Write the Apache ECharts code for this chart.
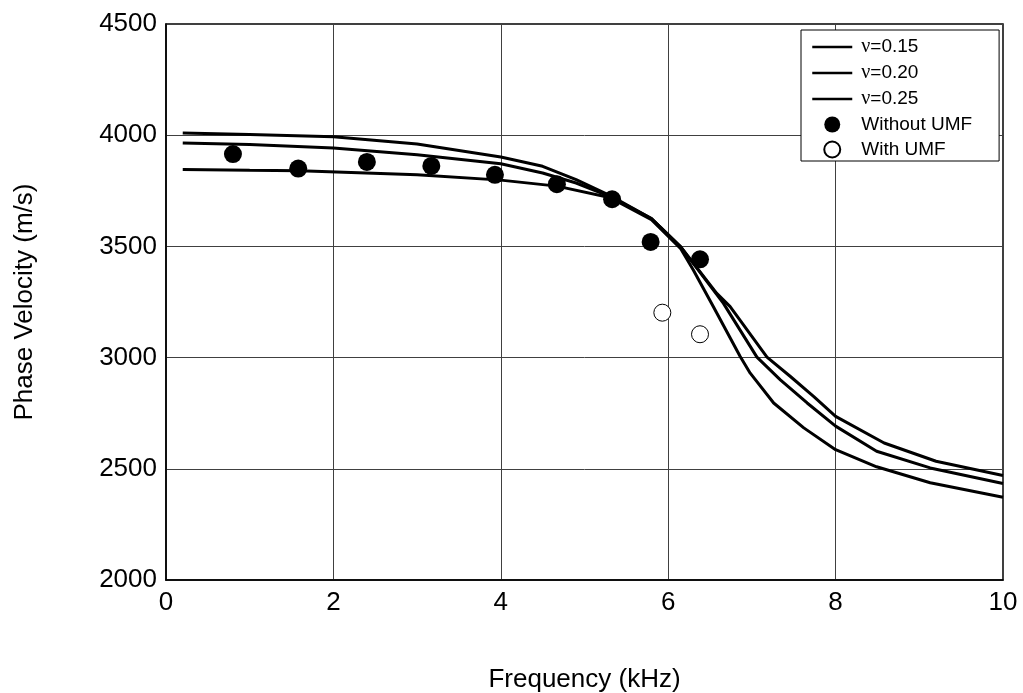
<!DOCTYPE html>
<html>
<head>
<meta charset="utf-8">
<title>Phase velocity</title>
<script src="https://cdn.jsdelivr.net/npm/echarts@6/dist/echarts.min.js"></script>
<style>
    html, body { margin: 0; padding: 0; background: #fff; }
    #chart { width: 1023px; height: 693px; }
</style>
</head>
<body>
<div id="chart"></div>
<script>
// curve nu = 0.15
var freq15 = [0.2, 1, 2, 3, 4, 4.5, 4.9, 5.3, 5.8, 6.15, 6.58, 6.74, 7.18, 7.46, 7.74, 8.0, 8.58, 9.2, 10];
var vel15 = [4010, 4003, 3993, 3960, 3902, 3860, 3800, 3730, 3625, 3498, 3289, 3229, 3002, 2915, 2825, 2736, 2616, 2534, 2470];
// curve nu = 0.20
var freq20 = [0.2, 1, 2, 3, 4, 4.5, 4.9, 5.3, 5.8, 6.15, 6.66, 7.06, 7.34, 7.66, 8.0, 8.49, 9.13, 10];
var vel20 = [3965, 3958, 3942, 3912, 3872, 3830, 3785, 3725, 3625, 3498, 3244, 3002, 2900, 2796, 2692, 2579, 2504, 2434];
// curve nu = 0.25
var freq25 = [0.2, 1, 1.6, 3, 4, 4.67, 5.3, 5.8, 6.15, 6.3, 6.54, 6.86, 6.98, 7.26, 7.62, 8.0, 8.49, 9.13, 10];
var vel25 = [3846, 3842, 3840, 3822, 3798, 3771, 3720, 3620, 3490, 3394, 3229, 3005, 2930, 2796, 2684, 2586, 2509, 2437, 2372];
// measured points
var withoutFreq = [0.8, 1.58, 2.4, 3.17, 3.93, 4.67, 5.33, 5.79, 6.38];
var withoutVel = [3915, 3850, 3880, 3862, 3822, 3780, 3712, 3520, 3442];
var withFreq = [5.93, 6.38];
var withVel = [3202, 3105];

var xTicks = { min: 0, max: 10, interval: 2 };
var yTicks = { min: 2000, max: 4500, interval: 500 };

(function (window) {
    var font = 'Liberation Sans, Arial, sans-serif';

    function pairs(xs, ys) {
        return xs.map(function (x, i) { return [x, ys[i]]; });
    }

    function buildLine(name, xs, ys) {
        return {
            name: name,
            type: 'line',
            data: pairs(xs, ys),
            symbol: 'none',
            smooth: false,
            lineStyle: { color: '#000', width: 3 },
            itemStyle: { color: '#000' },
            z: 2
        };
    }

    function buildScatter(name, xs, ys, filled) {
        return {
            name: name,
            type: 'scatter',
            data: pairs(xs, ys),
            symbol: 'circle',
            symbolSize: filled ? 18 : 17,
            itemStyle: filled
                ? { color: '#000', opacity: 1 }
                : { color: '#fff', borderColor: '#000', borderWidth: 1, opacity: 1 },
            z: 3
        };
    }

    // legend entries for lines: hide the circle that echarts puts on line icons
    function lineLegend(name) {
        return { name: name, itemStyle: { opacity: 0 } };
    }

    var chart = echarts.init(document.getElementById('chart'));

    chart.setOption({
        animation: false,
        backgroundColor: '#fff',
        textStyle: { fontFamily: font, color: '#000' },
        grid: {
            left: 166, right: 20, top: 24, bottom: 113,
            outerBoundsMode: 'none',
            show: true,
            borderColor: '#000',
            borderWidth: 1.5
        },
        legend: {
            orient: 'vertical',
            left: 801,
            top: 30,
            padding: [7, 27, 2, 10],
            itemWidth: 40,
            itemHeight: 16,
            itemGap: 6,
            backgroundColor: '#fff',
            borderColor: '#000',
            borderWidth: 1,
            lineStyle: { width: 2.5 },
            textStyle: {
                fontFamily: font, fontSize: 19, color: '#000', lineHeight: 19,
                padding: [0, 0, 0, 4],
                rich: {
                    g: { fontFamily: 'Liberation Serif, serif', fontSize: 20, color: '#000', lineHeight: 19 },
                    t: { fontFamily: font, fontSize: 19, color: '#000', lineHeight: 19 }
                }
            },
            formatter: function (name) {
                if (name.charAt(0) === 'ν') {
                    return '{g|ν}{t|' + name.slice(1) + '}';
                }
                return name;
            },
            data: [
                lineLegend('ν=0.15'),
                lineLegend('ν=0.20'),
                lineLegend('ν=0.25'),
                'Without UMF',
                'With UMF'
            ]
        },
        xAxis: {
            type: 'value',
            min: xTicks.min,
            max: xTicks.max,
            interval: xTicks.interval,
            name: 'Frequency (kHz)',
            nameLocation: 'middle',
            nameGap: 87,
            nameTextStyle: { fontFamily: font, fontSize: 26, color: '#000' },
            axisLine: { show: true, lineStyle: { color: '#000', width: 1.5 } },
            axisTick: { show: false },
            axisLabel: { fontFamily: font, fontSize: 26, color: '#000', margin: 10 },
            splitLine: { show: true, lineStyle: { color: '#404040', width: 1 } }
        },
        yAxis: {
            type: 'value',
            min: yTicks.min,
            max: yTicks.max,
            interval: yTicks.interval,
            name: 'Phase Velocity (m/s)',
            nameLocation: 'middle',
            nameGap: 128,
            nameTextStyle: { fontFamily: font, fontSize: 26, color: '#000' },
            axisLine: { show: true, lineStyle: { color: '#000', width: 1.5 } },
            axisTick: { show: false },
            axisLabel: {
                fontFamily: font, fontSize: 26, color: '#000', margin: 9,
                formatter: function (v) { return String(v); }
            },
            splitLine: { show: true, lineStyle: { color: '#404040', width: 1 } }
        },
        series: [
            buildLine('ν=0.15', freq15, vel15),
            buildLine('ν=0.20', freq20, vel20),
            buildLine('ν=0.25', freq25, vel25),
            buildScatter('Without UMF', withoutFreq, withoutVel, true),
            buildScatter('With UMF', withFreq, withVel, false)
        ]
    });
})(window);
</script>
</body>
</html>
